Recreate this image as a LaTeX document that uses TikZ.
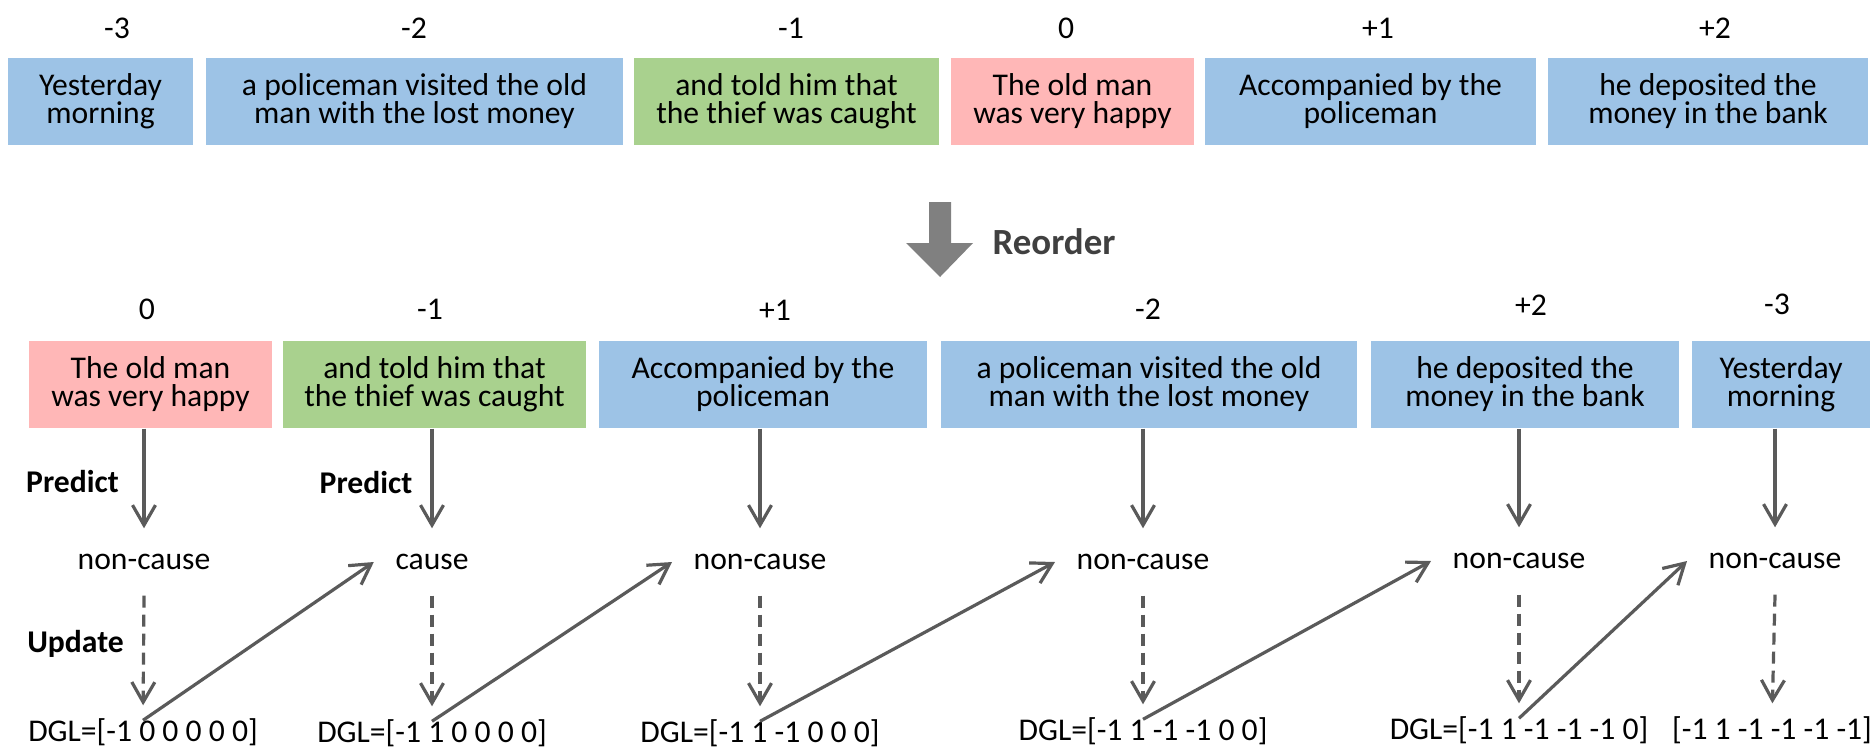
\documentclass[tikz,border=0pt]{standalone}
\usepackage{fontspec}
\setmainfont{Carlito}
\usetikzlibrary{arrows.meta, positioning}
\definecolor{boxBlue}{HTML}{9DC3E6}
\definecolor{boxGreen}{HTML}{A9D18E}
\definecolor{boxPink}{HTML}{FFB7B7}
\definecolor{lineGray}{HTML}{5A5A5A}
\definecolor{reoGray}{HTML}{808080}
\definecolor{reoText}{HTML}{404040}
\tikzset{
    clause/.style={rectangle, inner sep=0pt, minimum height=8.7mm, align=center, font=\fontsize{9}{7.97}\selectfont},
    idx/.style={inner sep=0pt, font=\fontsize{9}{10}\selectfont},
    outcome/.style={inner xsep=2.1mm, inner ysep=0pt, minimum height=6.6mm, font=\fontsize{9}{10}\selectfont},
    dglNode/.style={inner sep=0pt, text height=2mm, text depth=0.6mm, font=\fontsize{9}{10}\selectfont},
    phase/.style={inner sep=0pt, font=\fontsize{9}{10}\selectfont\bfseries},
    predEdge/.style={-{Straight Barb[length=2mm, width=2.3mm]}, draw=lineGray, line width=0.32mm},
    updEdge/.style={predEdge, dash pattern=on 1.2mm off 0.7mm, shorten >=1.5mm},
}
\newcommand{\drawPredict}[2]{
    \draw[predEdge] (#2 |- #1.south) -- (#2.north);
}
\newcommand{\drawUpdate}[2]{
    \draw[updEdge] (#1.south) -- (#2.north);
}
\newcommand{\drawCarry}[2]{
    \draw[predEdge] (#1.north) -- (#2.west);
}

\begin{document}
\begin{tikzpicture}[x=0.1mm, y=-0.1mm]
    \useasboundingbox (0, 0) rectangle (1873, 750);

    % original order
    \node[idx] (iYest) at (117, 28) {-3};
    \node[idx] (iPol) at (414, 28) {-2};
    \node[idx] (iTold) at (791, 28) {-1};
    \node[idx] (iHappy) at (1066, 28) {0};
    \node[idx] (iAcc) at (1378, 28) {+1};
    \node[idx] (iDep) at (1715, 28) {+2};

    \node[clause, fill=boxBlue, minimum width=18.5mm] (tYest) at (100.5, 101.5) {Yesterday\\morning};
    \node[clause, fill=boxBlue, minimum width=41.7mm] (tPol) at (414.5, 101.5) {a policeman visited the old\\man with the lost money};
    \node[clause, fill=boxGreen, minimum width=30.5mm] (tTold) at (786.5, 101.5) {and told him that\\the thief was caught};
    \node[clause, fill=boxPink, minimum width=24.3mm] (tHappy) at (1072.5, 101.5) {The old man\\was very happy};
    \node[clause, fill=boxBlue, minimum width=33.1mm] (tAcc) at (1370.5, 101.5) {Accompanied by the\\policeman};
    \node[clause, fill=boxBlue, minimum width=32mm] (tDep) at (1708, 101.5) {he deposited the\\money in the bank};

    % reorder
    \fill[reoGray] (929, 202) -- (951, 202) -- (951, 243) -- (973, 243) -- (940, 277) -- (906, 243) -- (929, 243) -- cycle;
    \node[font=\fontsize{10.5}{12}\selectfont\bfseries, text=reoText, inner sep=0pt] (reorder) at (1054, 242) {Reorder};

    % new order
    \node[idx] (jHappy) at (147, 309) {0};
    \node[idx] (jTold) at (430, 309) {-1};
    \node[idx] (jAcc) at (775, 310) {+1};
    \node[idx] (jPol) at (1148, 309) {-2};
    \node[idx] (jDep) at (1531, 305) {+2};
    \node[idx] (jYest) at (1777, 304) {-3};

    \node[clause, fill=boxPink, minimum width=24.3mm] (bHappy) at (150.5, 384.5) {The old man\\was very happy};
    \node[clause, fill=boxGreen, minimum width=30.3mm] (bTold) at (434.5, 384.5) {and told him that\\the thief was caught};
    \node[clause, fill=boxBlue, minimum width=32.8mm] (bAcc) at (763, 384.5) {Accompanied by the\\policeman};
    \node[clause, fill=boxBlue, minimum width=41.6mm] (bPol) at (1149, 384.5) {a policeman visited the old\\man with the lost money};
    \node[clause, fill=boxBlue, minimum width=30.8mm] (bDep) at (1525, 384.5) {he deposited the\\money in the bank};
    \node[clause, fill=boxBlue, minimum width=17.8mm] (bYest) at (1781, 384.5) {Yesterday\\morning};

    \node[outcome] (p1) at (144, 562) {non-cause};
    \node[outcome] (p2) at (432, 562) {cause};
    \node[outcome] (p3) at (760, 562) {non-cause};
    \node[outcome] (p4) at (1143, 562) {non-cause};
    \node[outcome] (p5) at (1519, 561) {non-cause};
    \node[outcome] (p6) at (1775, 561) {non-cause};

    \node[dglNode] (g1) at (143, 734) {DGL=[-1 0 0 0 0 0]};
    \node[dglNode] (g2) at (432, 735) {DGL=[-1 1 0 0 0 0]};
    \node[dglNode] (g3) at (760, 735) {DGL=[-1 1 -1 0 0 0]};
    \node[dglNode] (g4) at (1143, 733) {DGL=[-1 1 -1 -1 0 0]};
    \node[dglNode] (g5) at (1519, 732) {DGL=[-1 1 -1 -1 -1 0]};
    \node[dglNode] (g6) at (1772, 732) {[-1 1 -1 -1 -1 -1]};

    \node[phase] (pred1) at (72.5, 482) {Predict};
    \node[phase] (pred2) at (366, 483) {Predict};
    \node[phase] (upd1) at (75.5, 644) {Update};

    \drawPredict{bHappy}{p1}
    \drawPredict{bTold}{p2}
    \drawPredict{bAcc}{p3}
    \drawPredict{bPol}{p4}
    \drawPredict{bDep}{p5}
    \drawPredict{bYest}{p6}

    \drawUpdate{p1}{g1}
    \drawUpdate{p2}{g2}
    \drawUpdate{p3}{g3}
    \drawUpdate{p4}{g4}
    \drawUpdate{p5}{g5}
    \drawUpdate{p6}{g6}

    \drawCarry{g1}{p2}
    \drawCarry{g2}{p3}
    \drawCarry{g3}{p4}
    \drawCarry{g4}{p5}
    \drawCarry{g5}{p6}

\end{tikzpicture}
\end{document}
